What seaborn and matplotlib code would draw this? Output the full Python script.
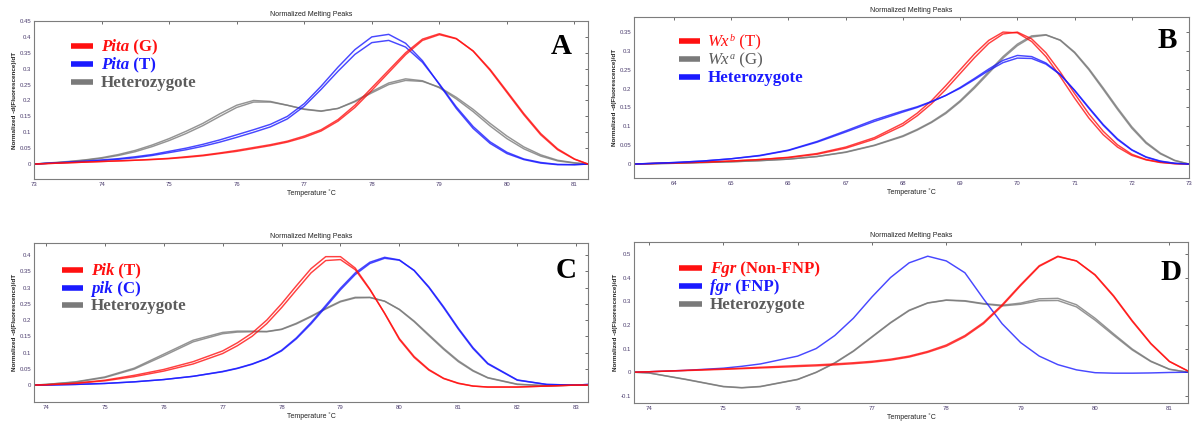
import numpy as np
import pandas as pd
import matplotlib
matplotlib.use("Agg")
import matplotlib.pyplot as plt
from matplotlib.lines import Line2D
import seaborn as sns

# ---------------- data ----------------
# Panel A (Pita)
T_A = [73.0, 73.25, 73.5, 73.75, 74.0, 74.25, 74.5, 74.75, 75.0, 75.25, 75.5, 75.75,
       76.0, 76.25, 76.5, 76.75, 77.0, 77.25, 77.5, 77.75, 78.0, 78.25, 78.5, 78.75,
       79.0, 79.25, 79.5, 79.75, 80.0, 80.25, 80.5, 80.75, 81.0, 81.2]
A_red_1 = [0.000, 0.002, 0.004, 0.006, 0.008, 0.010, 0.012, 0.015, 0.018, 0.023, 0.028, 0.035,
           0.043, 0.052, 0.061, 0.072, 0.088, 0.108, 0.140, 0.185, 0.240, 0.295, 0.350, 0.393,
           0.410, 0.395, 0.355, 0.295, 0.225, 0.155, 0.092, 0.045, 0.015, 0.000]
A_red_2 = [0.000, 0.002, 0.004, 0.006, 0.008, 0.010, 0.012, 0.014, 0.017, 0.021, 0.026, 0.033,
           0.040, 0.049, 0.058, 0.069, 0.084, 0.104, 0.135, 0.178, 0.232, 0.288, 0.344, 0.389,
           0.407, 0.394, 0.356, 0.298, 0.229, 0.159, 0.096, 0.048, 0.016, 0.000]
A_blue_1 = [0.000, 0.003, 0.006, 0.009, 0.013, 0.017, 0.023, 0.030, 0.040, 0.050, 0.062, 0.076,
            0.092, 0.108, 0.125, 0.150, 0.190, 0.245, 0.305, 0.360, 0.400, 0.408, 0.380, 0.325,
            0.250, 0.175, 0.112, 0.065, 0.033, 0.014, 0.003, -0.002, -0.002, 0.000]
A_blue_2 = [0.000, 0.003, 0.005, 0.008, 0.011, 0.015, 0.020, 0.027, 0.036, 0.045, 0.056, 0.069,
            0.084, 0.100, 0.117, 0.142, 0.182, 0.235, 0.292, 0.345, 0.382, 0.389, 0.368, 0.320,
            0.252, 0.180, 0.118, 0.070, 0.037, 0.016, 0.005, -0.001, -0.002, 0.000]
A_gray_1 = [0.000, 0.004, 0.008, 0.013, 0.020, 0.030, 0.043, 0.060, 0.080, 0.103, 0.128, 0.158,
            0.185, 0.200, 0.197, 0.185, 0.172, 0.166, 0.175, 0.198, 0.228, 0.255, 0.268, 0.262,
            0.240, 0.205, 0.165, 0.120, 0.080, 0.048, 0.025, 0.010, 0.003, 0.000]
A_gray_2 = [0.000, 0.003, 0.007, 0.012, 0.018, 0.027, 0.039, 0.055, 0.074, 0.096, 0.121, 0.150,
            0.178, 0.195, 0.195, 0.185, 0.173, 0.167, 0.175, 0.196, 0.224, 0.250, 0.263, 0.260,
            0.242, 0.210, 0.172, 0.128, 0.088, 0.054, 0.029, 0.012, 0.004, 0.000]

# Panel B (Wx)
T_B = [63.3, 64.0, 64.5, 65.0, 65.5, 66.0, 66.5, 67.0, 67.5, 68.0, 68.25, 68.5, 68.75, 69.0,
       69.25, 69.5, 69.75, 70.0, 70.25, 70.5, 70.75, 71.0, 71.25, 71.5, 71.75, 72.0, 72.25,
       72.5, 72.75, 73.0]
B_red_1 = [0.000, 0.003, 0.005, 0.008, 0.012, 0.018, 0.028, 0.045, 0.070, 0.108, 0.135, 0.168,
           0.208, 0.250, 0.292, 0.328, 0.350, 0.348, 0.325, 0.285, 0.232, 0.175, 0.122, 0.078,
           0.045, 0.023, 0.011, 0.004, 0.001, 0.000]
B_red_2 = [0.000, 0.003, 0.005, 0.008, 0.012, 0.017, 0.026, 0.042, 0.066, 0.102, 0.128, 0.160,
           0.198, 0.240, 0.282, 0.320, 0.345, 0.350, 0.332, 0.295, 0.244, 0.187, 0.133, 0.087,
           0.051, 0.026, 0.012, 0.005, 0.001, 0.000]
B_gray_1 = [0.000, 0.002, 0.004, 0.006, 0.009, 0.013, 0.020, 0.032, 0.050, 0.075, 0.092, 0.112,
            0.137, 0.168, 0.205, 0.245, 0.285, 0.318, 0.340, 0.343, 0.328, 0.295, 0.250, 0.198,
            0.145, 0.095, 0.055, 0.027, 0.009, 0.000]
B_gray_2 = [0.000, 0.002, 0.004, 0.006, 0.009, 0.013, 0.020, 0.031, 0.049, 0.073, 0.090, 0.110,
            0.134, 0.165, 0.201, 0.241, 0.281, 0.314, 0.337, 0.342, 0.329, 0.297, 0.253, 0.202,
            0.149, 0.099, 0.058, 0.029, 0.010, 0.000]
B_blue_1 = [0.000, 0.004, 0.008, 0.014, 0.022, 0.036, 0.058, 0.085, 0.113, 0.138, 0.150, 0.165,
            0.182, 0.203, 0.227, 0.252, 0.275, 0.288, 0.285, 0.268, 0.238, 0.195, 0.148, 0.103,
            0.065, 0.037, 0.018, 0.007, 0.002, 0.000]
B_blue_2 = [0.000, 0.004, 0.008, 0.014, 0.023, 0.037, 0.060, 0.088, 0.117, 0.141, 0.152, 0.166,
            0.182, 0.201, 0.224, 0.248, 0.269, 0.281, 0.280, 0.265, 0.237, 0.196, 0.150, 0.105,
            0.067, 0.038, 0.019, 0.008, 0.002, 0.000]

# Panel C (Pik)
T_C = [73.8, 74.0, 74.5, 75.0, 75.5, 76.0, 76.5, 77.0, 77.25, 77.5, 77.75, 78.0, 78.25, 78.5,
       78.75, 79.0, 79.25, 79.5, 79.75, 80.0, 80.25, 80.5, 80.75, 81.0, 81.25, 81.5, 82.0,
       82.5, 83.0, 83.2]
C_red_1 = [0.000, 0.001, 0.006, 0.015, 0.030, 0.048, 0.072, 0.105, 0.130, 0.160, 0.200, 0.250,
           0.305, 0.358, 0.395, 0.395, 0.360, 0.295, 0.220, 0.140, 0.085, 0.046, 0.020, 0.005,
           -0.003, -0.006, -0.006, -0.003, 0.000, 0.000]
C_red_2 = [0.000, 0.001, 0.005, 0.013, 0.026, 0.043, 0.065, 0.097, 0.121, 0.150, 0.189, 0.238,
           0.292, 0.345, 0.383, 0.386, 0.355, 0.293, 0.221, 0.143, 0.088, 0.048, 0.021, 0.006,
           -0.003, -0.006, -0.006, -0.003, 0.000, 0.000]
C_blue_1 = [0.000, 0.000, 0.002, 0.005, 0.010, 0.017, 0.027, 0.042, 0.052, 0.065, 0.082, 0.107,
            0.145, 0.192, 0.245, 0.298, 0.345, 0.378, 0.393, 0.385, 0.352, 0.300, 0.238, 0.172,
            0.112, 0.065, 0.015, 0.002, 0.000, 0.002]
C_blue_2 = [0.000, 0.000, 0.002, 0.005, 0.010, 0.017, 0.027, 0.041, 0.051, 0.064, 0.081, 0.105,
            0.142, 0.188, 0.240, 0.293, 0.340, 0.374, 0.390, 0.384, 0.353, 0.302, 0.241, 0.175,
            0.115, 0.067, 0.016, 0.002, 0.000, 0.002]
C_gray_1 = [0.000, 0.002, 0.010, 0.025, 0.052, 0.095, 0.138, 0.162, 0.166, 0.166, 0.165, 0.172,
            0.190, 0.212, 0.236, 0.258, 0.270, 0.270, 0.258, 0.232, 0.195, 0.152, 0.110, 0.072,
            0.043, 0.022, 0.002, -0.002, 0.000, 0.000]
C_gray_2 = [0.000, 0.002, 0.009, 0.023, 0.049, 0.090, 0.133, 0.158, 0.163, 0.164, 0.164, 0.171,
            0.188, 0.210, 0.234, 0.256, 0.268, 0.269, 0.258, 0.233, 0.197, 0.155, 0.113, 0.075,
            0.045, 0.023, 0.003, -0.002, 0.000, 0.000]

# Panel D (Fgr)
T_D = [73.8, 74.0, 74.5, 75.0, 75.25, 75.5, 76.0, 76.25, 76.5, 76.75, 77.0, 77.25, 77.5, 77.75,
       78.0, 78.25, 78.5, 78.75, 79.0, 79.25, 79.5, 79.75, 80.0, 80.25, 80.5, 80.75, 81.0, 81.25]
D_red_1 = [0.000, 0.002, 0.008, 0.014, 0.017, 0.021, 0.028, 0.031, 0.035, 0.040, 0.046, 0.055,
           0.068, 0.088, 0.115, 0.155, 0.210, 0.285, 0.370, 0.450, 0.490, 0.470, 0.410, 0.320,
           0.215, 0.120, 0.045, 0.005]
D_red_2 = [0.000, 0.002, 0.007, 0.012, 0.015, 0.018, 0.024, 0.027, 0.031, 0.036, 0.042, 0.051,
           0.064, 0.084, 0.110, 0.150, 0.205, 0.280, 0.366, 0.447, 0.488, 0.470, 0.412, 0.323,
           0.218, 0.122, 0.046, 0.005]
D_blue_1 = [0.000, 0.002, 0.008, 0.017, 0.025, 0.035, 0.068, 0.100, 0.155, 0.228, 0.318, 0.400,
            0.462, 0.490, 0.470, 0.420, 0.310, 0.205, 0.125, 0.068, 0.032, 0.010, -0.002, -0.004,
            -0.004, -0.003, -0.001, 0.000]
D_gray_1 = [0.000, -0.003, -0.030, -0.060, -0.065, -0.060, -0.030, 0.000, 0.040, 0.090, 0.150,
            0.210, 0.262, 0.293, 0.305, 0.302, 0.290, 0.283, 0.292, 0.310, 0.312, 0.285, 0.228,
            0.162, 0.098, 0.047, 0.013, 0.000]
D_gray_2 = [0.000, -0.003, -0.031, -0.061, -0.066, -0.061, -0.031, -0.001, 0.038, 0.088, 0.148,
            0.208, 0.260, 0.292, 0.304, 0.300, 0.288, 0.280, 0.287, 0.302, 0.303, 0.276, 0.220,
            0.156, 0.094, 0.045, 0.012, 0.000]

# ---------------- style ----------------
sns.set_theme(style="white")
plt.rcParams["font.family"] = ["Liberation Sans", "DejaVu Sans"]

W, H = 1197, 424
fig = plt.figure(figsize=(W / 100, H / 100), dpi=100)

RED, BLUE, GRAY = "#ff1010", "#1a1aff", "#7a7a7a"
TICK_C = "#4b3d6e"


def fx(x):
    return x / W


def fy(y):
    return 1 - y / H


def make_df(T, series):
    rows = []
    for name, rep, vals in series:
        for t, v in zip(T, vals):
            rows.append({"T": t, "y": v, "geno": name, "rep": rep})
    return pd.DataFrame(rows)


panels = [
    dict(rect=(34, 21, 588, 179), T=T_A, xlim=(73, 81.2), ylim=(-0.047, 0.45),
         xticks=range(73, 82), yticks=np.arange(0, 0.451, 0.05),
         series=[("g", 1, A_gray_1), ("g", 2, A_gray_2), ("b", 1, A_blue_1), ("b", 2, A_blue_2),
                 ("r", 1, A_red_1), ("r", 2, A_red_2)]),
    dict(rect=(634, 17, 1189, 178), T=T_B, xlim=(63.3, 73), ylim=(-0.037, 0.39),
         xticks=range(64, 74), yticks=np.arange(0, 0.351, 0.05),
         series=[("g", 1, B_gray_1), ("g", 2, B_gray_2), ("r", 1, B_red_1), ("r", 2, B_red_2),
                 ("b", 1, B_blue_1), ("b", 2, B_blue_2)]),
    dict(rect=(34, 243, 588, 402), T=T_C, xlim=(73.8, 83.2), ylim=(-0.052, 0.437),
         xticks=range(74, 84), yticks=np.arange(0, 0.401, 0.05),
         series=[("g", 1, C_gray_1), ("g", 2, C_gray_2), ("b", 1, C_blue_1), ("b", 2, C_blue_2),
                 ("r", 1, C_red_1), ("r", 2, C_red_2)]),
    dict(rect=(634, 242, 1188, 403), T=T_D, xlim=(73.8, 81.25), ylim=(-0.13, 0.55),
         xticks=range(74, 82), yticks=np.arange(-0.1, 0.501, 0.1),
         series=[("g", 1, D_gray_1), ("g", 2, D_gray_2), ("b", 1, D_blue_1),
                 ("r", 1, D_red_1), ("r", 2, D_red_2)]),
]

pal = {"r": RED, "b": BLUE, "g": GRAY}

for p in panels:
    x0, y0, x1, y1 = p["rect"]
    ax = fig.add_axes([fx(x0), fy(y1), (x1 - x0) / W, (y1 - y0) / H])
    df = make_df(p["T"], p["series"])
    sns.lineplot(data=df, x="T", y="y", hue="geno", units="rep", estimator=None,
                 palette=pal, lw=1.05, alpha=0.8, legend=False, ax=ax, sort=False)
    for ln in ax.lines:
        ln.set_solid_joinstyle("round")
    ax.set_xlim(*p["xlim"])
    ax.set_ylim(*p["ylim"])
    ax.set_xticks(list(p["xticks"]))
    yt = [round(v, 2) for v in p["yticks"]]
    ax.set_yticks(yt)
    ax.set_yticklabels([("%g" % v) if abs(v) > 1e-9 else "0" for v in yt])
    ax.tick_params(axis="both", which="both", labelsize=4.3, labelcolor=TICK_C,
                   color="#555555", length=2.5, width=0.6, direction="in",
                   top=True, right=True, pad=2)
    for s in ax.spines.values():
        s.set_color("#7d7d7d")
        s.set_linewidth(0.8)
    ax.set_title("Normalized Melting Peaks", fontsize=5, pad=3.5, color="#222222")
    ax.set_xlabel("Temperature \u02daC", fontsize=5, labelpad=2, color="#222222")
    ax.set_ylabel("Normalized -d(Fluorescence)/dT", fontsize=4.6, fontweight="bold",
                  labelpad=2, color="#222222")
    ax.set_facecolor("white")

# ---------------- legends ----------------
SERIF = ["Liberation Serif", "DejaVu Serif"]
LEG_FS = 12.2
fig.canvas.draw()
renderer = fig.canvas.get_renderer()


def chain(x, y, pieces, color):
    """pieces: list of (text, style, weight, size_scale, dy_px)"""
    cx = x
    for txt, style, weight, sc, dy in pieces:
        t = fig.text(fx(cx), fy(y - dy), txt, fontsize=LEG_FS * sc, family=SERIF,
                     style=style, weight=weight, color=color, ha="left", va="baseline")
        bb = t.get_window_extent(renderer)
        cx = bb.x1


def legend(hx0, hx1, ty, rows):
    for i, (color, tcolor, pieces) in enumerate(rows):
        yc = ty[i]
        fig.add_artist(Line2D([fx(hx0), fx(hx1)], [fy(yc), fy(yc)], color=color, lw=4,
                              solid_capstyle="butt", transform=fig.transFigure))
        chain(hx1 + 8, yc + 5, pieces, tcolor)


GRAY_T = "#5c5c5c"
legend(71, 93, [46, 64, 82], [
    (RED, RED, [("Pita", "italic", "bold", 1, 0), (" (G)", "normal", "bold", 1, 0)]),
    (BLUE, BLUE, [("Pita", "italic", "bold", 1, 0), (" (T)", "normal", "bold", 1, 0)]),
    (GRAY, GRAY_T, [("Heterozygote", "normal", "bold", 1, 0)]),
])
legend(679, 700, [41, 59, 77], [
    (RED, RED, [("Wx", "italic", "normal", 1, 0), ("b", "italic", "normal", 0.6, 5),
                (" (T)", "normal", "normal", 1, 0)]),
    (GRAY, GRAY_T, [("Wx", "italic", "normal", 1, 0), ("a", "italic", "normal", 0.6, 5),
                    (" (G)", "normal", "normal", 1, 0)]),
    (BLUE, BLUE, [("Heterozygote", "normal", "bold", 1, 0)]),
])
legend(62, 83, [270, 288, 305], [
    (RED, RED, [("Pik", "italic", "bold", 1, 0), (" (T)", "normal", "bold", 1, 0)]),
    (BLUE, BLUE, [("pik", "italic", "bold", 1, 0), (" (C)", "normal", "bold", 1, 0)]),
    (GRAY, GRAY_T, [("Heterozygote", "normal", "bold", 1, 0)]),
])
legend(679, 702, [268, 286, 304], [
    (RED, RED, [("Fgr", "italic", "bold", 1, 0), (" (Non-FNP)", "normal", "bold", 1, 0)]),
    (BLUE, BLUE, [("fgr", "italic", "bold", 1, 0), (" (FNP)", "normal", "bold", 1, 0)]),
    (GRAY, GRAY_T, [("Heterozygote", "normal", "bold", 1, 0)]),
])

# panel letters
for letter, (x, y) in zip("ABCD", [(561, 47), (1167, 40), (566, 271), (1171, 272)]):
    fig.text(fx(x), fy(y), letter, fontsize=21, family=SERIF, weight="bold",
             ha="center", va="center", color="black")

fig.savefig("out.png", dpi=100, facecolor="white")
